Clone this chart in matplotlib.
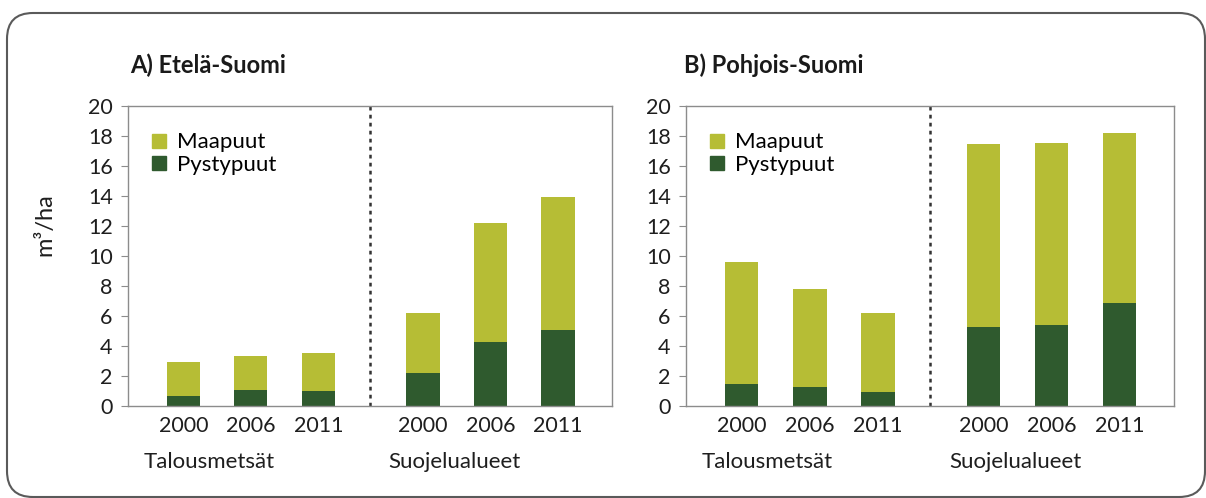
import matplotlib
matplotlib.use("Agg")
import matplotlib.pyplot as plt
import matplotlib.transforms as mtransforms
from matplotlib.patches import FancyBboxPatch, Patch

plt.rcParams['font.family'] = ['Lato', 'DejaVu Sans']

# data (m3/ha)
vuodet = ['2000', '2006', '2011', '2000', '2006', '2011']
ryhmat = ['Talousmetsät', 'Suojelualueet']
paneelit = ['A) Etelä-Suomi', 'B) Pohjois-Suomi']

# A) Etelä-Suomi
etela_pysty = [0.7, 1.07, 0.97, 2.22, 4.24, 5.07]
etela_maa = [2.25, 2.26, 2.59, 3.96, 7.94, 8.89]
# B) Pohjois-Suomi
pohjoinen_pysty = [1.5, 1.27, 0.96, 5.24, 5.37, 6.84]
pohjoinen_maa = [8.12, 6.52, 5.25, 12.22, 12.13, 11.33]

vari_maa = '#b6bd35'
vari_pysty = '#2f5a2e'
reuna = '#8c8c8c'
teksti = '#1e1e1e'

x = [1, 2, 3, 4.55, 5.55, 6.55]
jakaja = 3.77

fig = plt.figure(figsize=(12.06, 4.98), dpi=100)

# rounded outer frame
kehys = FancyBboxPatch((7, 1), 1198, 484, boxstyle='round,pad=0,rounding_size=26',
                       transform=mtransforms.IdentityTransform(), fill=False,
                       edgecolor='#5a5a5a', linewidth=1.5)
fig.add_artist(kehys)

akselit = [fig.add_axes([128 / 1206, 92 / 498, 484 / 1206, 300 / 498]),
           fig.add_axes([686 / 1206, 92 / 498, 488 / 1206, 300 / 498])]
datat = [(etela_pysty, etela_maa), (pohjoinen_pysty, pohjoinen_maa)]
otsikko_x = [130, 684]

for ax, (pysty, maa), otsikko, ox in zip(akselit, datat, paneelit, otsikko_x):
    ax.bar(x, pysty, width=0.49, color=vari_pysty, label='Pystypuut')
    ax.bar(x, maa, width=0.49, bottom=pysty, color=vari_maa, label='Maapuut')
    ax.axvline(jakaja, color='#333333', linestyle=(0, (1.5, 1.7)), linewidth=1.8)

    ax.set_ylim(0, 20)
    ax.set_yticks(range(0, 21, 2))
    ax.set_xlim(0.18, 7.35)
    ax.set_xticks(x)
    ax.set_xticklabels(vuodet)
    for s in ax.spines.values():
        s.set_color(reuna)
        s.set_linewidth(1)
    ax.tick_params(axis='y', length=5, color=reuna, labelsize=15.5, pad=6, labelcolor=teksti)
    ax.tick_params(axis='x', length=0, labelsize=15.5, pad=7, labelcolor=teksti)

    tr = mtransforms.blended_transform_factory(ax.transData, ax.transAxes)
    ax.text(1.38, -0.185, ryhmat[0], transform=tr, ha='center', va='center', fontsize=16, color=teksti)
    ax.text(5.02, -0.185, ryhmat[1], transform=tr, ha='center', va='center', fontsize=16, color=teksti)

    kahvat = [Patch(color=vari_maa, label='Maapuut'), Patch(color=vari_pysty, label='Pystypuut')]
    ax.legend(handles=kahvat, loc='upper left', bbox_to_anchor=(0.05, 0.912), frameon=False,
              fontsize=16, handlelength=0.6, handleheight=0.6, handletextpad=0.5,
              labelspacing=0.1, borderpad=0, borderaxespad=0)

    fig.text(ox / 1206, 1 - 65 / 498, otsikko, ha='left', va='center', fontsize=17,
             fontweight='bold', color='#1a1a1a')

fig.text(45 / 1206, 1 - 225 / 498, 'm³/ha', rotation=90, ha='center', va='center',
         fontsize=17, color=teksti)

fig.savefig('out.png', dpi=100)
